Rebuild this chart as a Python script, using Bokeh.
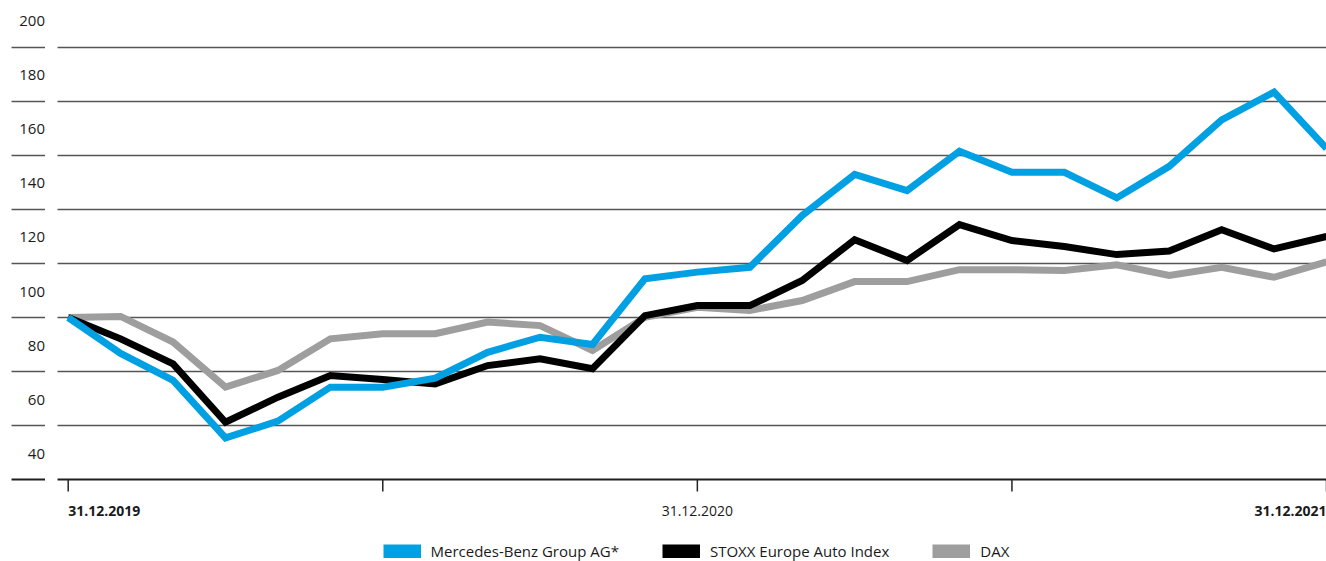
from bokeh.plotting import figure
from bokeh.models import Range1d, Legend, LegendItem
from bokeh.core.properties import value
from bokeh.embed import file_html
from bokeh.resources import INLINE

# ---------------- data ----------------
months = list(range(25))  # 31.12.2019 ... 31.12.2021, monthly
mercedes = [100, 86.7, 76.7, 55.4, 61.6, 74.2, 74.2, 77.5, 87.1, 92.7, 90.0, 114.3, 116.8,
            118.6, 137.8, 153.0, 147.0, 161.6, 153.8, 153.8, 144.3, 156.0, 173.2, 183.5, 162.6]
stoxx = [100, 92.1, 82.8, 61.2, 70.5, 78.5, 77.0, 75.4, 82.2, 84.7, 81.0, 100.7, 104.4,
         104.4, 113.7, 128.8, 121.1, 134.4, 128.5, 126.3, 123.3, 124.6, 132.5, 125.4, 130.0]
dax = [100, 100.4, 90.9, 74.2, 80.4, 92.1, 94.0, 94.0, 98.3, 97.0, 87.8, 100.1, 103.8,
       102.6, 106.3, 113.3, 113.3, 117.7, 117.7, 117.4, 119.5, 115.6, 118.6, 114.9, 120.6]
series_names = ["Mercedes-Benz Group AG*", "STOXX Europe Auto Index", "DAX"]
y_ticks = [200, 180, 160, 140, 120, 100, 80, 60, 40]
y_labels = ["200", "180", "160", "140", "120", "100", "80", "60", "40"]
x_ticks = [0, 6, 12, 18, 24]
x_bold_pos = [0, 24]
x_bold_labels = ["31.12.2019", "31.12.2021"]
x_mid_pos = [12]
x_mid_labels = ["31.12.2020"]

BLUE = "#00A0E3"
BLACK = "#000000"
GREY = "#9E9E9E"
TXT = "#1a1a1a"
FONT = value("Open Sans")

W, H = 1326, 561
p = figure(width=W, height=H, output_backend="svg", toolbar_location=None,
           x_range=Range1d(-1.2913, 24.0), y_range=Range1d(9.63, 217.407),
           min_border=0, min_border_left=0, min_border_right=0,
           min_border_top=0, min_border_bottom=0)
p.axis.visible = False
p.grid.visible = False
p.outline_line_color = None
p.background_fill_color = "white"
p.border_fill_color = "white"
# a range far outside the view: used only so the legend swatches have data
p.extra_y_ranges = {"swatch": Range1d(-1000, -999)}

# gridlines: short stub under labels + main line
stub_l, stub_r, main_l, main_r = -1.081, -0.4425, -0.204, 24.5
grid_y = y_ticks[:-1]
p.segment(x0=[stub_l] * len(grid_y), x1=[stub_r] * len(grid_y), y0=grid_y, y1=grid_y,
          line_color="#555555", line_width=1.3)
p.segment(x0=[main_l] * len(grid_y), x1=[main_r] * len(grid_y), y0=grid_y, y1=grid_y,
          line_color="#555555", line_width=1.3)
# baseline (40)
base = y_ticks[-1]
p.segment(x0=[stub_l, main_l], x1=[stub_r, main_r], y0=[base, base], y1=[base, base],
          line_color="#1f1f1f", line_width=2)
# tick marks
tick_len = 12 / 2.7
p.segment(x0=x_ticks, x1=x_ticks, y0=[base] * len(x_ticks),
          y1=[base - tick_len] * len(x_ticks), line_color="#222222", line_width=1.5)

# y labels (sit above their gridline)
p.text(x=[stub_r] * len(y_ticks), y=y_ticks, text=y_labels, text_align="right",
       text_baseline="alphabetic", y_offset=-26, text_font=FONT,
       text_font_size="15px", text_color=TXT)
# x labels
p.text(x=[x_bold_pos[0]], y=[base], text=[x_bold_labels[0]], text_align="left",
       text_baseline="alphabetic", y_offset=31, text_font=FONT,
       text_font_size="14px", text_font_style="bold", text_color=TXT)
p.text(x=[x_bold_pos[1]], y=[base], text=[x_bold_labels[1]], text_align="right",
       text_baseline="alphabetic", y_offset=31, text_font=FONT,
       text_font_size="14px", text_font_style="bold", text_color=TXT)
p.text(x=x_mid_pos, y=[base], text=x_mid_labels, text_align="center",
       text_baseline="alphabetic", y_offset=31, text_font=FONT,
       text_font_size="14px", text_color=TXT)

# series lines
p.line(months, dax, line_color=GREY, line_width=7, line_join="miter")
p.line(months, stoxx, line_color=BLACK, line_width=7, line_join="miter")
p.line(months, mercedes, line_color=BLUE, line_width=7, line_join="miter")

# legend swatches (drawn off-screen, shown only in the legend)
items = []
for name, col, ys in zip(series_names, [BLUE, BLACK, GREY], [mercedes, stoxx, dax]):
    r = p.line(months, ys, line_color=col, line_width=14, y_range_name="swatch")
    items.append(LegendItem(label=name, renderers=[r]))
legend = Legend(items=items, orientation="horizontal", location=(382.5, 0),
                glyph_width=38, glyph_height=14, label_height=14, label_standoff=10,
                spacing=43, padding=0, margin=0, border_line_color=None,
                background_fill_alpha=0, label_text_font="Open Sans",
                label_text_font_size="15px", label_text_color=TXT)
p.add_layout(legend)

open("out.html", "w").write(file_html(p, INLINE))
